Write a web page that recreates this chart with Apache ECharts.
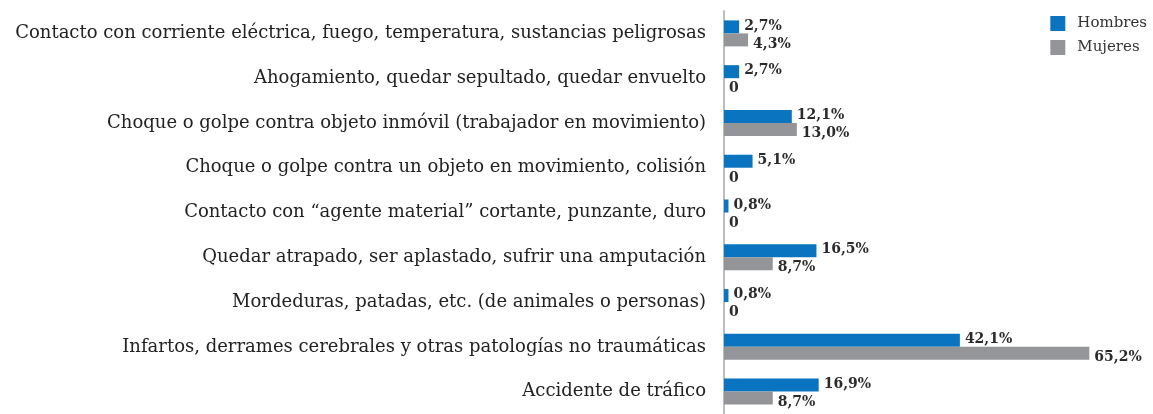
<!DOCTYPE html>
<html>
<head>
<meta charset="utf-8">
<script src="https://cdn.jsdelivr.net/npm/echarts@6/dist/echarts.min.js"></script>
<style>
  html, body { margin: 0; padding: 0; background: #fff; }
  #chart { width: 1153px; height: 414px; }
</style>
</head>
<body>
<div id="chart"></div>
<script>
// Causes of accident, top to bottom
const categories = [
  'Contacto con corriente eléctrica, fuego, temperatura, sustancias peligrosas',
  'Ahogamiento, quedar sepultado, quedar envuelto',
  'Choque o golpe contra objeto inmóvil (trabajador en movimiento)',
  'Choque o golpe contra un objeto en movimiento, colisión',
  'Contacto con “agente material” cortante, punzante, duro',
  'Quedar atrapado, ser aplastado, sufrir una amputación',
  'Mordeduras, patadas, etc. (de animales o personas)',
  'Infartos, derrames cerebrales y otras patologías no traumáticas',
  'Accidente de tráfico'
];
const hombres = [2.7, 2.7, 12.1, 5.1, 0.8, 16.5, 0.8, 42.1, 16.9];
const mujeres = [4.3, 0, 13.0, 0, 0, 8.7, 0, 65.2, 8.7];
const seriesNames = ['Hombres', 'Mujeres'];

const serif = '"DejaVu Serif", "Liberation Serif", serif';

function pct(p) {
  return p.value === 0 ? '0' : p.value.toFixed(1).replace('.', ',') + '%';
}

function labelStyle(offsetY) {
  return {
    show: true,
    position: 'right',
    distance: 5,
    offset: [0, offsetY],
    formatter: pct,
    fontFamily: serif,
    fontWeight: 'bold',
    fontSize: 14,
    color: '#2b2b2b'
  };
}

const chart = echarts.init(document.getElementById('chart'));
chart.setOption({
  animation: false,
  backgroundColor: '#fff',
  grid: { left: 724, right: 20, top: 11, bottom: -2, containLabel: false },
  legend: {
    orient: 'vertical',
    right: 1,
    top: 11,
    itemWidth: 15,
    itemHeight: 15,
    itemGap: 9,
    icon: 'rect',
    data: seriesNames,
    textStyle: { fontFamily: serif, fontSize: 15, color: '#333', padding: [0, 0, 0, 7] }
  },
  xAxis: {
    type: 'value',
    min: 0,
    max: 73,
    show: false
  },
  yAxis: {
    type: 'category',
    inverse: true,
    data: categories,
    axisLine: { show: true, lineStyle: { color: '#bdbdbd', width: 2 } },
    axisTick: { show: false },
    axisLabel: {
      margin: 18,
      fontFamily: serif,
      fontSize: 18,
      color: '#222'
    }
  },
  series: [
    {
      name: seriesNames[0],
      type: 'bar',
      data: hombres,
      barWidth: 13,
      barGap: '0%',
      itemStyle: { color: '#0a74c0' },
      label: labelStyle(-1)
    },
    {
      name: seriesNames[1],
      type: 'bar',
      data: mujeres,
      barWidth: 13,
      barGap: '0%',
      itemStyle: { color: '#939598' },
      label: labelStyle(4)
    }
  ]
});
</script>
</body>
</html>
